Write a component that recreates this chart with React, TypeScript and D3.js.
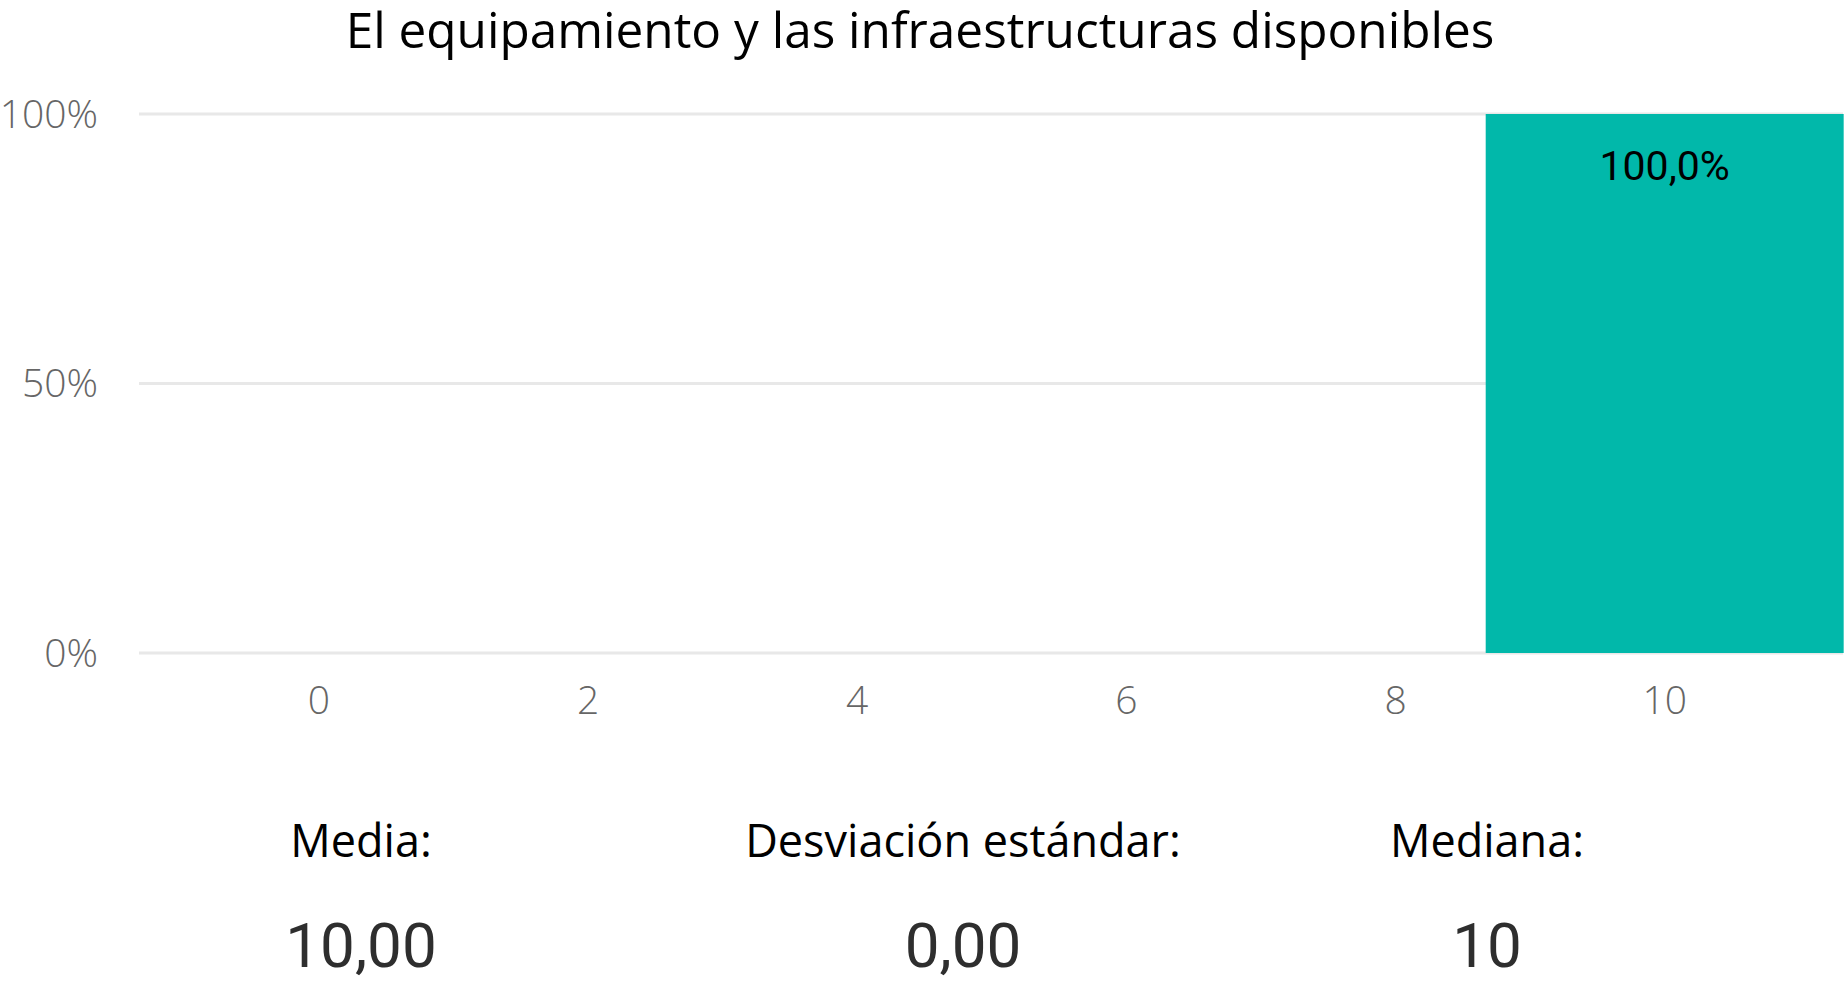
import React from "react";
import * as d3 from "d3";

const title = "El equipamiento y las infraestructuras disponibles";
const scores = [10];
const shares = [1.0];
const shareLabels = ["100,0%"];
const xTickValues = [0, 2, 4, 6, 8, 10];
const yTickValues = [0, 0.5, 1];
const yTickLabels = ["0%", "50%", "100%"];
const statNames = ["Media:", "Desviación estándar:", "Mediana:"];
const statValues = ["10,00", "0,00", "10"];

const W = 1845;
const H = 984;
const plotLeft = 139;
const plotRight = 1843;
const plotTop = 114;
const plotBottom = 653;
const barHalf = 1.33;
const statCenters = [361, 963, 1487];

export default function App() {
  const x = d3.scaleLinear().domain([-1.337, 11.325]).range([plotLeft, plotRight]);
  const y = d3.scaleLinear().domain([0, 1]).range([plotBottom, plotTop]);
  const sans = "'Open Sans', 'Noto Sans', sans-serif";
  const din = "Roboto, 'Noto Sans', sans-serif";
  return (
    <svg
      width={W}
      height={H}
      style={{ position: "absolute", left: 0, top: 0, background: "#fff" }}
    >
      <text x={920} y={48} textAnchor="middle" fontFamily={sans} fontSize={49.5} fill="#000">
        {title}
      </text>
      {yTickValues.map((v, i) => (
        <g key={"y" + i}>
          <line x1={plotLeft} x2={plotRight} y1={y(v)} y2={y(v)} stroke="#e8e8e8" strokeWidth={3} />
          <text
            x={98}
            y={y(v)}
            dy="0.35em"
            textAnchor="end"
            fontFamily={sans}
            fontWeight={300}
            fontSize={39}
            fill="#666"
          >
            {yTickLabels[i]}
          </text>
        </g>
      ))}
      {scores.map((s, i) => (
        <g key={"b" + i}>
          <rect
            x={x(s - barHalf)}
            y={y(shares[i])}
            width={x(s + barHalf) - x(s - barHalf)}
            height={y(0) - y(shares[i])}
            fill="#01B8AA"
          />
          <text
            x={x(s)}
            y={y(shares[i]) + 66}
            textAnchor="middle"
            fontFamily={din}
            fontSize={41}
            fill="#000"
          >
            {shareLabels[i]}
          </text>
        </g>
      ))}
      {xTickValues.map((v) => (
        <text
          key={"x" + v}
          x={x(v)}
          y={714}
          textAnchor="middle"
          fontFamily={sans}
          fontWeight={300}
          fontSize={39}
          fill="#666"
        >
          {v}
        </text>
      ))}
      {statNames.map((n, i) => (
        <g key={"s" + i}>
          <text
            x={statCenters[i]}
            y={857}
            textAnchor="middle"
            fontFamily={sans}
            fontSize={45}
            fill="#000"
          >
            {n}
          </text>
          <text
            x={statCenters[i]}
            y={967}
            textAnchor="middle"
            fontFamily={din}
            fontWeight={400}
            fontSize={62}
            fill="#2e2e2e"
          >
            {statValues[i]}
          </text>
        </g>
      ))}
    </svg>
  );
}
